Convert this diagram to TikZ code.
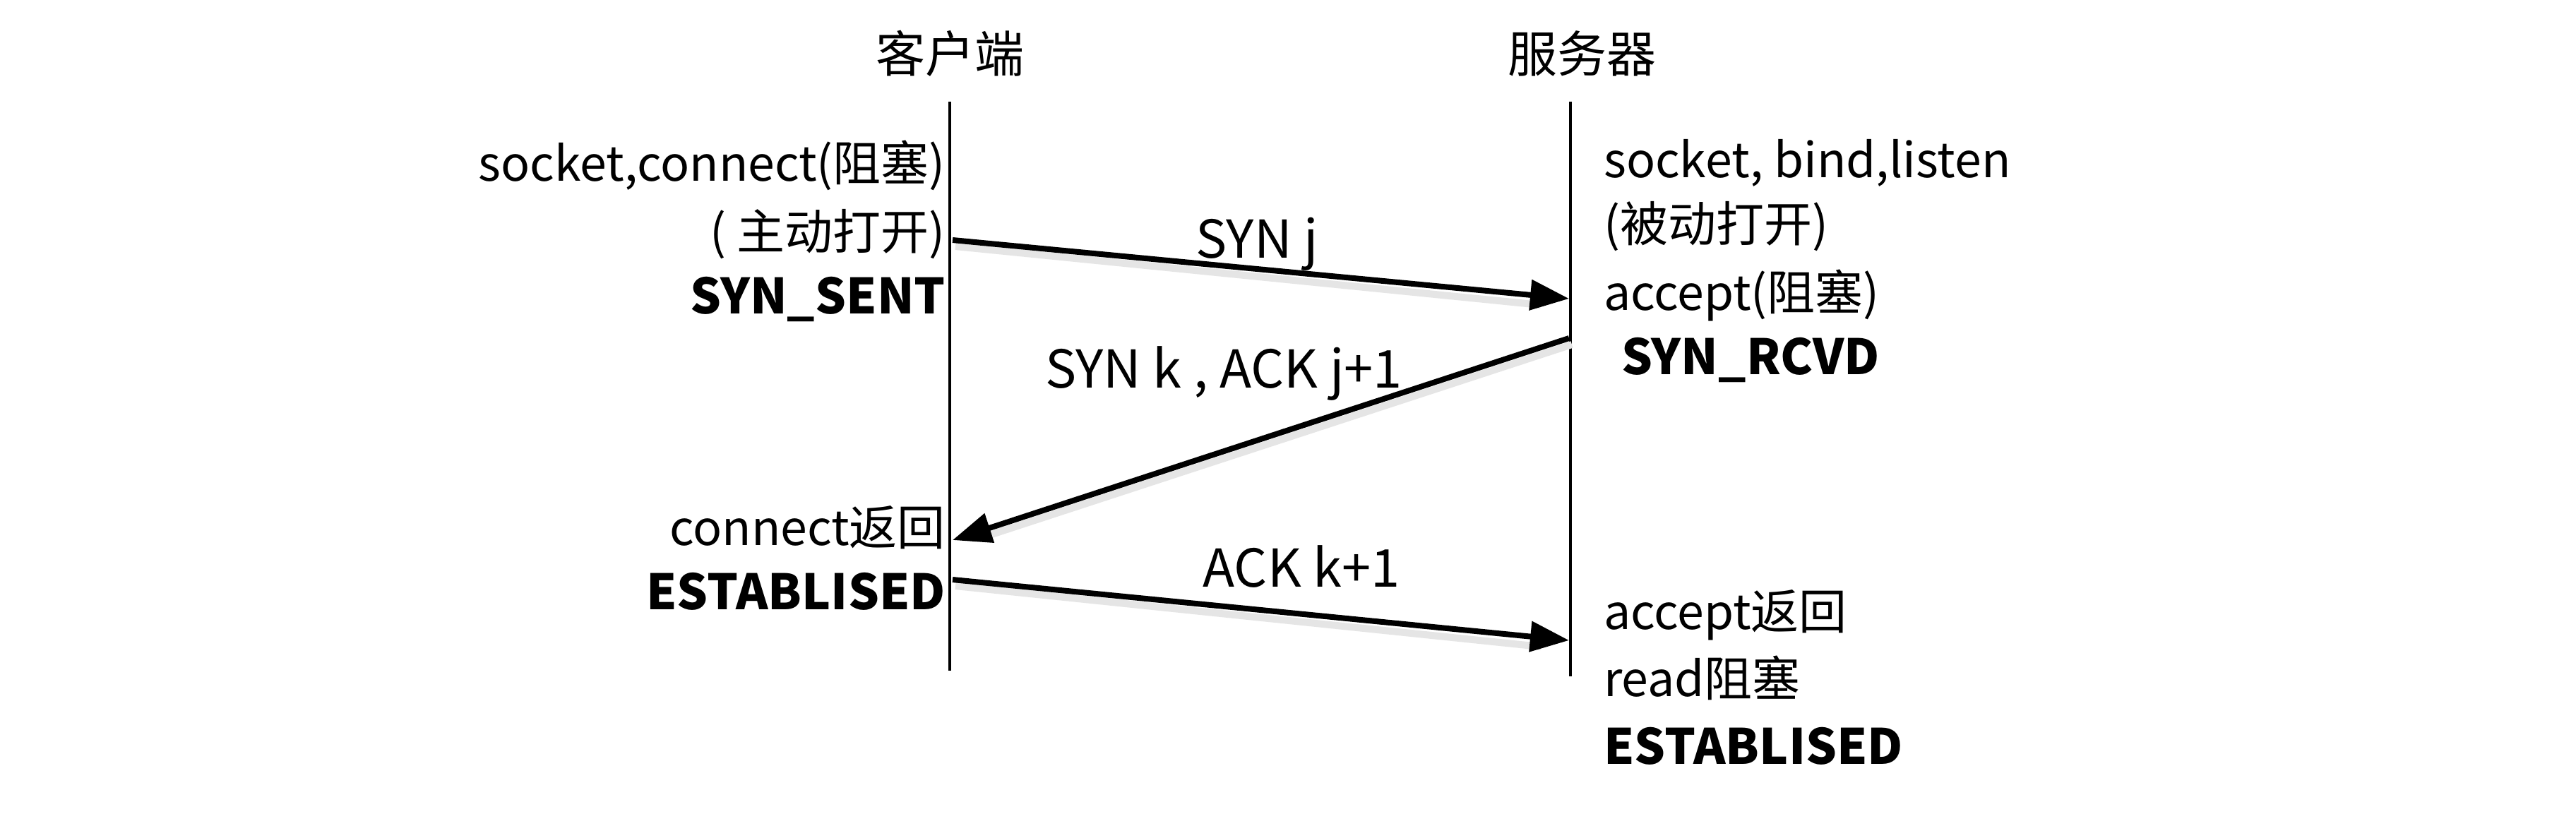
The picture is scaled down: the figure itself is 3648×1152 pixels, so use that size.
\documentclass[tikz,border=0pt]{standalone}
\usepackage{fontspec}
\setmainfont{Noto Sans CJK SC}
\newfontfamily\heavyfont{Noto Sans CJK SC Black}
\usetikzlibrary{arrows.meta}
\begin{document}
\begin{tikzpicture}[x=1pt,y=-1pt,
  txt/.style={inner sep=0pt, font=\fontsize{68}{78}\selectfont, text height=0.88em, text depth=0.12em},
  cl/.style={txt, anchor=east},
  sv/.style={txt, anchor=west},
  st/.style={font=\fontsize{69}{79}\selectfont\heavyfont},
  head/.style={inner sep=0pt, font=\fontsize{70}{80}\selectfont},
  life/.style={line width=3.5pt},
  msg/.style={line width=8pt, -{Triangle[length=55pt,width=42pt]}},
  shadowline/.style={line width=10pt, draw=black!10},
  lbl/.style={txt, anchor=center, font=\fontsize{74}{84}\selectfont}]
\useasboundingbox (0,0) rectangle (3648,1152);
\fill[white] (0,0) rectangle (3648,1152);

% headers
\node[head] (hc) at (1345,76) {客户端};
\node[head] (hs) at (2240,76) {服务器};

% lifelines
\coordinate (ctop) at (1345,144);
\coordinate (cbot) at (1345,950);
\coordinate (stop) at (2224,144);
\coordinate (sbot) at (2224,958);
\draw[life] (ctop) -- (cbot);
\draw[life] (stop) -- (sbot);

% client texts
\node[cl] (c1) at (1339,253) {socket,connect(阻塞)};
\node[cl] (c2) at (1339,350) {( 主动打开)};
\node[cl,st] (c3) at (1339,441) {SYN\_SENT};
\node[cl] (c4) at (1339,769) {connect返回};
\node[cl,st] (c5) at (1339,860) {ESTABLISED};

% server texts
\node[sv] (s1) at (2271,248) {socket, bind,listen};
\node[sv] (s2) at (2271,339) {(被动打开)};
\node[sv] (s3) at (2271,436) {accept(阻塞)};
\node[sv,st] (s4) at (2296,527) {SYN\_RCVD};
\node[sv] (s5) at (2271,888) {accept返回};
\node[sv] (s6) at (2271,983) {read阻塞};
\node[sv,st] (s7) at (2271,1079) {ESTABLISED};

% message endpoints
\coordinate (a1s) at (1349,340);
\coordinate (a1e) at (2222,423);
\coordinate (a2s) at (2222,479);
\coordinate (a2e) at (1349,765);
\coordinate (a3s) at (1349,821);
\coordinate (a3e) at (2222,907);

% shadows
\draw[shadowline] ([shift={(4,9)}]a1s) -- ([shift={(-40,9)}]a1e);
\draw[shadowline] ([shift={(4,9)}]a2s) -- ([shift={(40,-3)}]a2e);
\draw[shadowline] ([shift={(4,9)}]a3s) -- ([shift={(-40,9)}]a3e);

% messages
\draw[msg] (a1s) -- (a1e);
\draw[msg] (a2s) -- (a2e);
\draw[msg] (a3s) -- (a3e);

% labels
\node[lbl] (l1) at (1780,362) {SYN j};
\node[lbl] (l2) at (1733,546) {SYN k , ACK j+1};
\node[lbl] (l3) at (1843,828) {ACK k+1};
\end{tikzpicture}
\end{document}
